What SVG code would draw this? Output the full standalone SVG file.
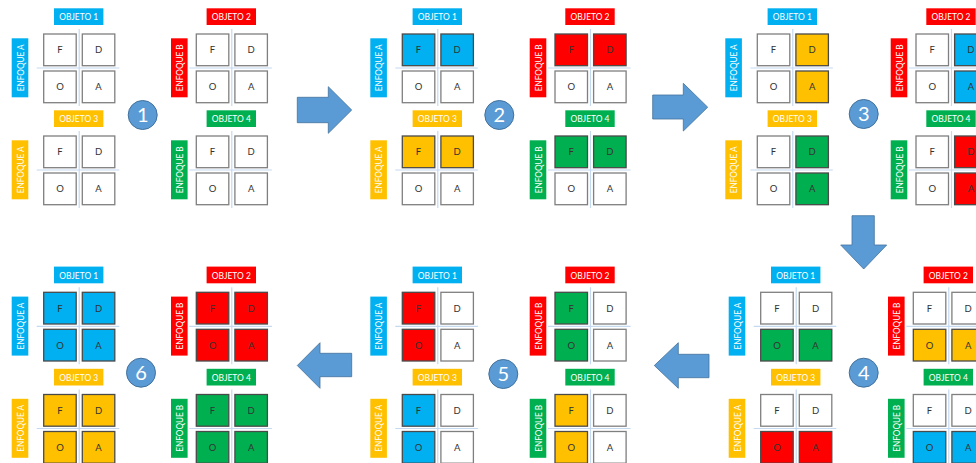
<svg xmlns="http://www.w3.org/2000/svg" width="976" height="463" viewBox="0 0 976 463">
<style>
  text{font-family:"Lato","Liberation Sans",sans-serif}
  .cross{fill:none;stroke:#c5d9f1;stroke-width:1.2}
  .box{fill:#fff;stroke:#7f7f7f;stroke-width:1.3}
  .box.blue{fill:#00b0f0;stroke:#4a4a4a}
  .box.red{fill:#ff0000;stroke:#4a4a4a}
  .box.yellow{fill:#ffc000;stroke:#4a4a4a}
  .box.green{fill:#00b050;stroke:#4a4a4a}
  .tag{stroke:none}
  .tag.blue{fill:#00b0f0}
  .tag.red{fill:#ff0000}
  .tag.yellow{fill:#ffc000}
  .tag.green{fill:#00b050}
  .tag-t{fill:#fff;font-size:9.6px;text-anchor:middle}
  .ltr{fill:#333;font-size:9.5px;text-anchor:middle}
  .step{fill:#5b9bd5;stroke:#41719c;stroke-width:1}
  .step-t{fill:#fff;font-size:20px;text-anchor:middle}
  .arrow{fill:#5b9bd5;stroke:#41719c;stroke-width:0.8}
</style>

<!-- connectors: block arrows between stages -->
<g id="connectors">
  <path class="arrow" d="M297.3,97.3H328.3V86.7L351.7,110L328.3,133.3V122.7H297.3Z"/>
  <path class="arrow" d="M652.7,95H683.3V83.3L707.7,107.2L683.3,131V119H652.7Z"/>
  <path class="arrow" d="M852,215.7H874.3V245H886.7L863.7,269L840.7,245H852Z"/>
  <path class="arrow" d="M709,354.3H678.3V342.7L654.3,365.5L678.3,388.3V377.7H709Z"/>
  <path class="arrow" d="M351.7,353.3H320V342.7L297.3,365.5L320,388.3V376.7H351.7Z"/>
</g>

<!-- stage 1 -->
<g id="stage1">
  <g id="s1-obj1" transform="translate(43.7,34)">
    <path class="cross" d="M35.5,-5V72M-7,34H75.6"/>
    <rect class="tag blue" x="10.3" y="-25.7" width="49.4" height="16.7"/>
    <text class="tag-t" x="35" y="-13.8" textLength="39" lengthAdjust="spacingAndGlyphs">OBJETO 1</text>
    <rect class="tag blue" x="-32" y="4.3" width="16.6" height="59"/>
    <text class="tag-t" transform="translate(-23.7,33.8) rotate(-90)" y="3.5" textLength="47" lengthAdjust="spacingAndGlyphs">ENFOQUE A</text>
    <rect class="box" x="0" y="0" width="32.5" height="31.7"/><text class="ltr" x="16.25" y="19.3">F</text>
    <rect class="box" x="38.6" y="0" width="32.5" height="31.7"/><text class="ltr" x="54.85" y="19.3">D</text>
    <rect class="box" x="0" y="37" width="32.5" height="31.7"/><text class="ltr" x="16.25" y="56.3">O</text>
    <rect class="box" x="38.6" y="37" width="32.5" height="31.7"/><text class="ltr" x="54.85" y="56.3">A</text>
  </g>
  <g id="s1-obj2" transform="translate(196.3,34)">
    <path class="cross" d="M35.5,-5V72M-7,34H75.6"/>
    <rect class="tag red" x="10.3" y="-25.7" width="49.4" height="16.7"/>
    <text class="tag-t" x="35" y="-13.8" textLength="39" lengthAdjust="spacingAndGlyphs">OBJETO 2</text>
    <rect class="tag red" x="-25.3" y="4.3" width="16.6" height="59"/>
    <text class="tag-t" transform="translate(-17,33.8) rotate(-90)" y="3.5" textLength="47" lengthAdjust="spacingAndGlyphs">ENFOQUE B</text>
    <rect class="box" x="0" y="0" width="32.5" height="31.7"/><text class="ltr" x="16.25" y="19.3">F</text>
    <rect class="box" x="38.6" y="0" width="32.5" height="31.7"/><text class="ltr" x="54.85" y="19.3">D</text>
    <rect class="box" x="0" y="37" width="32.5" height="31.7"/><text class="ltr" x="16.25" y="56.3">O</text>
    <rect class="box" x="38.6" y="37" width="32.5" height="31.7"/><text class="ltr" x="54.85" y="56.3">A</text>
  </g>
  <g id="s1-obj3" transform="translate(43.7,136)">
    <path class="cross" d="M35.5,-5V72M-7,34H75.6"/>
    <rect class="tag yellow" x="10.3" y="-25.7" width="49.4" height="16.7"/>
    <text class="tag-t" x="35" y="-13.8" textLength="39" lengthAdjust="spacingAndGlyphs">OBJETO 3</text>
    <rect class="tag yellow" x="-32" y="4.3" width="16.6" height="59"/>
    <text class="tag-t" transform="translate(-23.7,33.8) rotate(-90)" y="3.5" textLength="47" lengthAdjust="spacingAndGlyphs">ENFOQUE A</text>
    <rect class="box" x="0" y="0" width="32.5" height="31.7"/><text class="ltr" x="16.25" y="19.3">F</text>
    <rect class="box" x="38.6" y="0" width="32.5" height="31.7"/><text class="ltr" x="54.85" y="19.3">D</text>
    <rect class="box" x="0" y="37" width="32.5" height="31.7"/><text class="ltr" x="16.25" y="56.3">O</text>
    <rect class="box" x="38.6" y="37" width="32.5" height="31.7"/><text class="ltr" x="54.85" y="56.3">A</text>
  </g>
  <g id="s1-obj4" transform="translate(196.3,136)">
    <path class="cross" d="M35.5,-5V72M-7,34H75.6"/>
    <rect class="tag green" x="10.3" y="-25.7" width="49.4" height="16.7"/>
    <text class="tag-t" x="35" y="-13.8" textLength="39" lengthAdjust="spacingAndGlyphs">OBJETO 4</text>
    <rect class="tag green" x="-25.3" y="4.3" width="16.6" height="59"/>
    <text class="tag-t" transform="translate(-17,33.8) rotate(-90)" y="3.5" textLength="47" lengthAdjust="spacingAndGlyphs">ENFOQUE B</text>
    <rect class="box" x="0" y="0" width="32.5" height="31.7"/><text class="ltr" x="16.25" y="19.3">F</text>
    <rect class="box" x="38.6" y="0" width="32.5" height="31.7"/><text class="ltr" x="54.85" y="19.3">D</text>
    <rect class="box" x="0" y="37" width="32.5" height="31.7"/><text class="ltr" x="16.25" y="56.3">O</text>
    <rect class="box" x="38.6" y="37" width="32.5" height="31.7"/><text class="ltr" x="54.85" y="56.3">A</text>
  </g>
  <g id="s1-num"><circle class="step" cx="142.7" cy="115" r="14.5"/><text class="step-t" x="142.7" y="122">1</text></g>
</g>

<!-- stage 2 -->
<g id="stage2">
  <g id="s2-obj1" transform="translate(402.3,34)">
    <path class="cross" d="M35.5,-5V72M-7,34H75.6"/>
    <rect class="tag blue" x="10.3" y="-25.7" width="49.4" height="16.7"/>
    <text class="tag-t" x="35" y="-13.8" textLength="39" lengthAdjust="spacingAndGlyphs">OBJETO 1</text>
    <rect class="tag blue" x="-32" y="4.3" width="16.6" height="59"/>
    <text class="tag-t" transform="translate(-23.7,33.8) rotate(-90)" y="3.5" textLength="47" lengthAdjust="spacingAndGlyphs">ENFOQUE A</text>
    <rect class="box blue" x="0" y="0" width="32.5" height="31.7"/><text class="ltr" x="16.25" y="19.3">F</text>
    <rect class="box blue" x="38.6" y="0" width="32.5" height="31.7"/><text class="ltr" x="54.85" y="19.3">D</text>
    <rect class="box" x="0" y="37" width="32.5" height="31.7"/><text class="ltr" x="16.25" y="56.3">O</text>
    <rect class="box" x="38.6" y="37" width="32.5" height="31.7"/><text class="ltr" x="54.85" y="56.3">A</text>
  </g>
  <g id="s2-obj2" transform="translate(555,34)">
    <path class="cross" d="M35.5,-5V72M-7,34H75.6"/>
    <rect class="tag red" x="10.3" y="-25.7" width="49.4" height="16.7"/>
    <text class="tag-t" x="35" y="-13.8" textLength="39" lengthAdjust="spacingAndGlyphs">OBJETO 2</text>
    <rect class="tag red" x="-25.3" y="4.3" width="16.6" height="59"/>
    <text class="tag-t" transform="translate(-17,33.8) rotate(-90)" y="3.5" textLength="47" lengthAdjust="spacingAndGlyphs">ENFOQUE B</text>
    <rect class="box red" x="0" y="0" width="32.5" height="31.7"/><text class="ltr" x="16.25" y="19.3">F</text>
    <rect class="box red" x="38.6" y="0" width="32.5" height="31.7"/><text class="ltr" x="54.85" y="19.3">D</text>
    <rect class="box" x="0" y="37" width="32.5" height="31.7"/><text class="ltr" x="16.25" y="56.3">O</text>
    <rect class="box" x="38.6" y="37" width="32.5" height="31.7"/><text class="ltr" x="54.85" y="56.3">A</text>
  </g>
  <g id="s2-obj3" transform="translate(402.3,136)">
    <path class="cross" d="M35.5,-5V72M-7,34H75.6"/>
    <rect class="tag yellow" x="10.3" y="-25.7" width="49.4" height="16.7"/>
    <text class="tag-t" x="35" y="-13.8" textLength="39" lengthAdjust="spacingAndGlyphs">OBJETO 3</text>
    <rect class="tag yellow" x="-32" y="4.3" width="16.6" height="59"/>
    <text class="tag-t" transform="translate(-23.7,33.8) rotate(-90)" y="3.5" textLength="47" lengthAdjust="spacingAndGlyphs">ENFOQUE A</text>
    <rect class="box yellow" x="0" y="0" width="32.5" height="31.7"/><text class="ltr" x="16.25" y="19.3">F</text>
    <rect class="box yellow" x="38.6" y="0" width="32.5" height="31.7"/><text class="ltr" x="54.85" y="19.3">D</text>
    <rect class="box" x="0" y="37" width="32.5" height="31.7"/><text class="ltr" x="16.25" y="56.3">O</text>
    <rect class="box" x="38.6" y="37" width="32.5" height="31.7"/><text class="ltr" x="54.85" y="56.3">A</text>
  </g>
  <g id="s2-obj4" transform="translate(555,136)">
    <path class="cross" d="M35.5,-5V72M-7,34H75.6"/>
    <rect class="tag green" x="10.3" y="-25.7" width="49.4" height="16.7"/>
    <text class="tag-t" x="35" y="-13.8" textLength="39" lengthAdjust="spacingAndGlyphs">OBJETO 4</text>
    <rect class="tag green" x="-25.3" y="4.3" width="16.6" height="59"/>
    <text class="tag-t" transform="translate(-17,33.8) rotate(-90)" y="3.5" textLength="47" lengthAdjust="spacingAndGlyphs">ENFOQUE B</text>
    <rect class="box green" x="0" y="0" width="32.5" height="31.7"/><text class="ltr" x="16.25" y="19.3">F</text>
    <rect class="box green" x="38.6" y="0" width="32.5" height="31.7"/><text class="ltr" x="54.85" y="19.3">D</text>
    <rect class="box" x="0" y="37" width="32.5" height="31.7"/><text class="ltr" x="16.25" y="56.3">O</text>
    <rect class="box" x="38.6" y="37" width="32.5" height="31.7"/><text class="ltr" x="54.85" y="56.3">A</text>
  </g>
  <g id="s2-num"><circle class="step" cx="499.3" cy="115" r="14.5"/><text class="step-t" x="499.3" y="122">2</text></g>
</g>

<!-- stage 3 -->
<g id="stage3">
  <g id="s3-obj1" transform="translate(757.3,34)">
    <path class="cross" d="M35.5,-5V72M-7,34H75.6"/>
    <rect class="tag blue" x="10.3" y="-25.7" width="49.4" height="16.7"/>
    <text class="tag-t" x="35" y="-13.8" textLength="39" lengthAdjust="spacingAndGlyphs">OBJETO 1</text>
    <rect class="tag blue" x="-32" y="4.3" width="16.6" height="59"/>
    <text class="tag-t" transform="translate(-23.7,33.8) rotate(-90)" y="3.5" textLength="47" lengthAdjust="spacingAndGlyphs">ENFOQUE A</text>
    <rect class="box" x="0" y="0" width="32.5" height="31.7"/><text class="ltr" x="16.25" y="19.3">F</text>
    <rect class="box yellow" x="38.6" y="0" width="32.5" height="31.7"/><text class="ltr" x="54.85" y="19.3">D</text>
    <rect class="box" x="0" y="37" width="32.5" height="31.7"/><text class="ltr" x="16.25" y="56.3">O</text>
    <rect class="box yellow" x="38.6" y="37" width="32.5" height="31.7"/><text class="ltr" x="54.85" y="56.3">A</text>
  </g>
  <g id="s3-obj2" transform="translate(916,34)">
    <path class="cross" d="M35.5,-5V72M-7,34H75.6"/>
    <rect class="tag red" x="10.3" y="-25.7" width="49.4" height="16.7"/>
    <text class="tag-t" x="35" y="-13.8" textLength="39" lengthAdjust="spacingAndGlyphs">OBJETO 2</text>
    <rect class="tag red" x="-25.3" y="4.3" width="16.6" height="59"/>
    <text class="tag-t" transform="translate(-17,33.8) rotate(-90)" y="3.5" textLength="47" lengthAdjust="spacingAndGlyphs">ENFOQUE B</text>
    <rect class="box" x="0" y="0" width="32.5" height="31.7"/><text class="ltr" x="16.25" y="19.3">F</text>
    <rect class="box blue" x="38.6" y="0" width="32.5" height="31.7"/><text class="ltr" x="54.85" y="19.3">D</text>
    <rect class="box" x="0" y="37" width="32.5" height="31.7"/><text class="ltr" x="16.25" y="56.3">O</text>
    <rect class="box blue" x="38.6" y="37" width="32.5" height="31.7"/><text class="ltr" x="54.85" y="56.3">A</text>
  </g>
  <g id="s3-obj3" transform="translate(757.3,136)">
    <path class="cross" d="M35.5,-5V72M-7,34H75.6"/>
    <rect class="tag yellow" x="10.3" y="-25.7" width="49.4" height="16.7"/>
    <text class="tag-t" x="35" y="-13.8" textLength="39" lengthAdjust="spacingAndGlyphs">OBJETO 3</text>
    <rect class="tag yellow" x="-32" y="4.3" width="16.6" height="59"/>
    <text class="tag-t" transform="translate(-23.7,33.8) rotate(-90)" y="3.5" textLength="47" lengthAdjust="spacingAndGlyphs">ENFOQUE A</text>
    <rect class="box" x="0" y="0" width="32.5" height="31.7"/><text class="ltr" x="16.25" y="19.3">F</text>
    <rect class="box green" x="38.6" y="0" width="32.5" height="31.7"/><text class="ltr" x="54.85" y="19.3">D</text>
    <rect class="box" x="0" y="37" width="32.5" height="31.7"/><text class="ltr" x="16.25" y="56.3">O</text>
    <rect class="box green" x="38.6" y="37" width="32.5" height="31.7"/><text class="ltr" x="54.85" y="56.3">A</text>
  </g>
  <g id="s3-obj4" transform="translate(916,136)">
    <path class="cross" d="M35.5,-5V72M-7,34H75.6"/>
    <rect class="tag green" x="10.3" y="-25.7" width="49.4" height="16.7"/>
    <text class="tag-t" x="35" y="-13.8" textLength="39" lengthAdjust="spacingAndGlyphs">OBJETO 4</text>
    <rect class="tag green" x="-25.3" y="4.3" width="16.6" height="59"/>
    <text class="tag-t" transform="translate(-17,33.8) rotate(-90)" y="3.5" textLength="47" lengthAdjust="spacingAndGlyphs">ENFOQUE B</text>
    <rect class="box" x="0" y="0" width="32.5" height="31.7"/><text class="ltr" x="16.25" y="19.3">F</text>
    <rect class="box red" x="38.6" y="0" width="32.5" height="31.7"/><text class="ltr" x="54.85" y="19.3">D</text>
    <rect class="box" x="0" y="37" width="32.5" height="31.7"/><text class="ltr" x="16.25" y="56.3">O</text>
    <rect class="box red" x="38.6" y="37" width="32.5" height="31.7"/><text class="ltr" x="54.85" y="56.3">A</text>
  </g>
  <g id="s3-num"><circle class="step" cx="863.7" cy="114" r="14.5"/><text class="step-t" x="863.7" y="121">3</text></g>
</g>

<!-- stage 4 -->
<g id="stage4">
  <g id="s4-obj1" transform="translate(760.7,292.3)">
    <path class="cross" d="M35.5,-5V72M-7,34H75.6"/>
    <rect class="tag blue" x="10.3" y="-25.7" width="49.4" height="16.7"/>
    <text class="tag-t" x="35" y="-13.8" textLength="39" lengthAdjust="spacingAndGlyphs">OBJETO 1</text>
    <rect class="tag blue" x="-32" y="4.3" width="16.6" height="59"/>
    <text class="tag-t" transform="translate(-23.7,33.8) rotate(-90)" y="3.5" textLength="47" lengthAdjust="spacingAndGlyphs">ENFOQUE A</text>
    <rect class="box" x="0" y="0" width="32.5" height="31.7"/><text class="ltr" x="16.25" y="19.3">F</text>
    <rect class="box" x="38.6" y="0" width="32.5" height="31.7"/><text class="ltr" x="54.85" y="19.3">D</text>
    <rect class="box green" x="0" y="37" width="32.5" height="31.7"/><text class="ltr" x="16.25" y="56.3">O</text>
    <rect class="box green" x="38.6" y="37" width="32.5" height="31.7"/><text class="ltr" x="54.85" y="56.3">A</text>
  </g>
  <g id="s4-obj2" transform="translate(913.3,292.3)">
    <path class="cross" d="M35.5,-5V72M-7,34H75.6"/>
    <rect class="tag red" x="10.3" y="-25.7" width="49.4" height="16.7"/>
    <text class="tag-t" x="35" y="-13.8" textLength="39" lengthAdjust="spacingAndGlyphs">OBJETO 2</text>
    <rect class="tag red" x="-25.3" y="4.3" width="16.6" height="59"/>
    <text class="tag-t" transform="translate(-17,33.8) rotate(-90)" y="3.5" textLength="47" lengthAdjust="spacingAndGlyphs">ENFOQUE B</text>
    <rect class="box" x="0" y="0" width="32.5" height="31.7"/><text class="ltr" x="16.25" y="19.3">F</text>
    <rect class="box" x="38.6" y="0" width="32.5" height="31.7"/><text class="ltr" x="54.85" y="19.3">D</text>
    <rect class="box yellow" x="0" y="37" width="32.5" height="31.7"/><text class="ltr" x="16.25" y="56.3">O</text>
    <rect class="box yellow" x="38.6" y="37" width="32.5" height="31.7"/><text class="ltr" x="54.85" y="56.3">A</text>
  </g>
  <g id="s4-obj3" transform="translate(760.7,394.5)">
    <path class="cross" d="M35.5,-5V72M-7,34H75.6"/>
    <rect class="tag yellow" x="10.3" y="-25.7" width="49.4" height="16.7"/>
    <text class="tag-t" x="35" y="-13.8" textLength="39" lengthAdjust="spacingAndGlyphs">OBJETO 3</text>
    <rect class="tag yellow" x="-32" y="4.3" width="16.6" height="59"/>
    <text class="tag-t" transform="translate(-23.7,33.8) rotate(-90)" y="3.5" textLength="47" lengthAdjust="spacingAndGlyphs">ENFOQUE A</text>
    <rect class="box" x="0" y="0" width="32.5" height="31.7"/><text class="ltr" x="16.25" y="19.3">F</text>
    <rect class="box" x="38.6" y="0" width="32.5" height="31.7"/><text class="ltr" x="54.85" y="19.3">D</text>
    <rect class="box red" x="0" y="37" width="32.5" height="31.7"/><text class="ltr" x="16.25" y="56.3">O</text>
    <rect class="box red" x="38.6" y="37" width="32.5" height="31.7"/><text class="ltr" x="54.85" y="56.3">A</text>
  </g>
  <g id="s4-obj4" transform="translate(913.3,394.5)">
    <path class="cross" d="M35.5,-5V72M-7,34H75.6"/>
    <rect class="tag green" x="10.3" y="-25.7" width="49.4" height="16.7"/>
    <text class="tag-t" x="35" y="-13.8" textLength="39" lengthAdjust="spacingAndGlyphs">OBJETO 4</text>
    <rect class="tag green" x="-25.3" y="4.3" width="16.6" height="59"/>
    <text class="tag-t" transform="translate(-17,33.8) rotate(-90)" y="3.5" textLength="47" lengthAdjust="spacingAndGlyphs">ENFOQUE B</text>
    <rect class="box" x="0" y="0" width="32.5" height="31.7"/><text class="ltr" x="16.25" y="19.3">F</text>
    <rect class="box" x="38.6" y="0" width="32.5" height="31.7"/><text class="ltr" x="54.85" y="19.3">D</text>
    <rect class="box blue" x="0" y="37" width="32.5" height="31.7"/><text class="ltr" x="16.25" y="56.3">O</text>
    <rect class="box blue" x="38.6" y="37" width="32.5" height="31.7"/><text class="ltr" x="54.85" y="56.3">A</text>
  </g>
  <g id="s4-num"><circle class="step" cx="863.7" cy="372.7" r="14.5"/><text class="step-t" x="863.7" y="379.7">4</text></g>
</g>

<!-- stage 5 -->
<g id="stage5">
  <g id="s5-obj1" transform="translate(402.3,292.3)">
    <path class="cross" d="M35.5,-5V72M-7,34H75.6"/>
    <rect class="tag blue" x="10.3" y="-25.7" width="49.4" height="16.7"/>
    <text class="tag-t" x="35" y="-13.8" textLength="39" lengthAdjust="spacingAndGlyphs">OBJETO 1</text>
    <rect class="tag blue" x="-32" y="4.3" width="16.6" height="59"/>
    <text class="tag-t" transform="translate(-23.7,33.8) rotate(-90)" y="3.5" textLength="47" lengthAdjust="spacingAndGlyphs">ENFOQUE A</text>
    <rect class="box red" x="0" y="0" width="32.5" height="31.7"/><text class="ltr" x="16.25" y="19.3">F</text>
    <rect class="box" x="38.6" y="0" width="32.5" height="31.7"/><text class="ltr" x="54.85" y="19.3">D</text>
    <rect class="box red" x="0" y="37" width="32.5" height="31.7"/><text class="ltr" x="16.25" y="56.3">O</text>
    <rect class="box" x="38.6" y="37" width="32.5" height="31.7"/><text class="ltr" x="54.85" y="56.3">A</text>
  </g>
  <g id="s5-obj2" transform="translate(555,292.3)">
    <path class="cross" d="M35.5,-5V72M-7,34H75.6"/>
    <rect class="tag red" x="10.3" y="-25.7" width="49.4" height="16.7"/>
    <text class="tag-t" x="35" y="-13.8" textLength="39" lengthAdjust="spacingAndGlyphs">OBJETO 2</text>
    <rect class="tag red" x="-25.3" y="4.3" width="16.6" height="59"/>
    <text class="tag-t" transform="translate(-17,33.8) rotate(-90)" y="3.5" textLength="47" lengthAdjust="spacingAndGlyphs">ENFOQUE B</text>
    <rect class="box green" x="0" y="0" width="32.5" height="31.7"/><text class="ltr" x="16.25" y="19.3">F</text>
    <rect class="box" x="38.6" y="0" width="32.5" height="31.7"/><text class="ltr" x="54.85" y="19.3">D</text>
    <rect class="box green" x="0" y="37" width="32.5" height="31.7"/><text class="ltr" x="16.25" y="56.3">O</text>
    <rect class="box" x="38.6" y="37" width="32.5" height="31.7"/><text class="ltr" x="54.85" y="56.3">A</text>
  </g>
  <g id="s5-obj3" transform="translate(402.3,394.5)">
    <path class="cross" d="M35.5,-5V72M-7,34H75.6"/>
    <rect class="tag yellow" x="10.3" y="-25.7" width="49.4" height="16.7"/>
    <text class="tag-t" x="35" y="-13.8" textLength="39" lengthAdjust="spacingAndGlyphs">OBJETO 3</text>
    <rect class="tag yellow" x="-32" y="4.3" width="16.6" height="59"/>
    <text class="tag-t" transform="translate(-23.7,33.8) rotate(-90)" y="3.5" textLength="47" lengthAdjust="spacingAndGlyphs">ENFOQUE A</text>
    <rect class="box blue" x="0" y="0" width="32.5" height="31.7"/><text class="ltr" x="16.25" y="19.3">F</text>
    <rect class="box" x="38.6" y="0" width="32.5" height="31.7"/><text class="ltr" x="54.85" y="19.3">D</text>
    <rect class="box blue" x="0" y="37" width="32.5" height="31.7"/><text class="ltr" x="16.25" y="56.3">O</text>
    <rect class="box" x="38.6" y="37" width="32.5" height="31.7"/><text class="ltr" x="54.85" y="56.3">A</text>
  </g>
  <g id="s5-obj4" transform="translate(555,394.5)">
    <path class="cross" d="M35.5,-5V72M-7,34H75.6"/>
    <rect class="tag green" x="10.3" y="-25.7" width="49.4" height="16.7"/>
    <text class="tag-t" x="35" y="-13.8" textLength="39" lengthAdjust="spacingAndGlyphs">OBJETO 4</text>
    <rect class="tag green" x="-25.3" y="4.3" width="16.6" height="59"/>
    <text class="tag-t" transform="translate(-17,33.8) rotate(-90)" y="3.5" textLength="47" lengthAdjust="spacingAndGlyphs">ENFOQUE B</text>
    <rect class="box yellow" x="0" y="0" width="32.5" height="31.7"/><text class="ltr" x="16.25" y="19.3">F</text>
    <rect class="box" x="38.6" y="0" width="32.5" height="31.7"/><text class="ltr" x="54.85" y="19.3">D</text>
    <rect class="box yellow" x="0" y="37" width="32.5" height="31.7"/><text class="ltr" x="16.25" y="56.3">O</text>
    <rect class="box" x="38.6" y="37" width="32.5" height="31.7"/><text class="ltr" x="54.85" y="56.3">A</text>
  </g>
  <g id="s5-num"><circle class="step" cx="503.3" cy="374" r="14.5"/><text class="step-t" x="503.3" y="381">5</text></g>
</g>

<!-- stage 6 -->
<g id="stage6">
  <g id="s6-obj1" transform="translate(43.7,292.3)">
    <path class="cross" d="M35.5,-5V72M-7,34H75.6"/>
    <rect class="tag blue" x="10.3" y="-25.7" width="49.4" height="16.7"/>
    <text class="tag-t" x="35" y="-13.8" textLength="39" lengthAdjust="spacingAndGlyphs">OBJETO 1</text>
    <rect class="tag blue" x="-32" y="4.3" width="16.6" height="59"/>
    <text class="tag-t" transform="translate(-23.7,33.8) rotate(-90)" y="3.5" textLength="47" lengthAdjust="spacingAndGlyphs">ENFOQUE A</text>
    <rect class="box blue" x="0" y="0" width="32.5" height="31.7"/><text class="ltr" x="16.25" y="19.3">F</text>
    <rect class="box blue" x="38.6" y="0" width="32.5" height="31.7"/><text class="ltr" x="54.85" y="19.3">D</text>
    <rect class="box blue" x="0" y="37" width="32.5" height="31.7"/><text class="ltr" x="16.25" y="56.3">O</text>
    <rect class="box blue" x="38.6" y="37" width="32.5" height="31.7"/><text class="ltr" x="54.85" y="56.3">A</text>
  </g>
  <g id="s6-obj2" transform="translate(196.3,292.3)">
    <path class="cross" d="M35.5,-5V72M-7,34H75.6"/>
    <rect class="tag red" x="10.3" y="-25.7" width="49.4" height="16.7"/>
    <text class="tag-t" x="35" y="-13.8" textLength="39" lengthAdjust="spacingAndGlyphs">OBJETO 2</text>
    <rect class="tag red" x="-25.3" y="4.3" width="16.6" height="59"/>
    <text class="tag-t" transform="translate(-17,33.8) rotate(-90)" y="3.5" textLength="47" lengthAdjust="spacingAndGlyphs">ENFOQUE B</text>
    <rect class="box red" x="0" y="0" width="32.5" height="31.7"/><text class="ltr" x="16.25" y="19.3">F</text>
    <rect class="box red" x="38.6" y="0" width="32.5" height="31.7"/><text class="ltr" x="54.85" y="19.3">D</text>
    <rect class="box red" x="0" y="37" width="32.5" height="31.7"/><text class="ltr" x="16.25" y="56.3">O</text>
    <rect class="box red" x="38.6" y="37" width="32.5" height="31.7"/><text class="ltr" x="54.85" y="56.3">A</text>
  </g>
  <g id="s6-obj3" transform="translate(43.7,394.5)">
    <path class="cross" d="M35.5,-5V72M-7,34H75.6"/>
    <rect class="tag yellow" x="10.3" y="-25.7" width="49.4" height="16.7"/>
    <text class="tag-t" x="35" y="-13.8" textLength="39" lengthAdjust="spacingAndGlyphs">OBJETO 3</text>
    <rect class="tag yellow" x="-32" y="4.3" width="16.6" height="59"/>
    <text class="tag-t" transform="translate(-23.7,33.8) rotate(-90)" y="3.5" textLength="47" lengthAdjust="spacingAndGlyphs">ENFOQUE A</text>
    <rect class="box yellow" x="0" y="0" width="32.5" height="31.7"/><text class="ltr" x="16.25" y="19.3">F</text>
    <rect class="box yellow" x="38.6" y="0" width="32.5" height="31.7"/><text class="ltr" x="54.85" y="19.3">D</text>
    <rect class="box yellow" x="0" y="37" width="32.5" height="31.7"/><text class="ltr" x="16.25" y="56.3">O</text>
    <rect class="box yellow" x="38.6" y="37" width="32.5" height="31.7"/><text class="ltr" x="54.85" y="56.3">A</text>
  </g>
  <g id="s6-obj4" transform="translate(196.3,394.5)">
    <path class="cross" d="M35.5,-5V72M-7,34H75.6"/>
    <rect class="tag green" x="10.3" y="-25.7" width="49.4" height="16.7"/>
    <text class="tag-t" x="35" y="-13.8" textLength="39" lengthAdjust="spacingAndGlyphs">OBJETO 4</text>
    <rect class="tag green" x="-25.3" y="4.3" width="16.6" height="59"/>
    <text class="tag-t" transform="translate(-17,33.8) rotate(-90)" y="3.5" textLength="47" lengthAdjust="spacingAndGlyphs">ENFOQUE B</text>
    <rect class="box green" x="0" y="0" width="32.5" height="31.7"/><text class="ltr" x="16.25" y="19.3">F</text>
    <rect class="box green" x="38.6" y="0" width="32.5" height="31.7"/><text class="ltr" x="54.85" y="19.3">D</text>
    <rect class="box green" x="0" y="37" width="32.5" height="31.7"/><text class="ltr" x="16.25" y="56.3">O</text>
    <rect class="box green" x="38.6" y="37" width="32.5" height="31.7"/><text class="ltr" x="54.85" y="56.3">A</text>
  </g>
  <g id="s6-num"><circle class="step" cx="141" cy="372.7" r="14.5"/><text class="step-t" x="141" y="379.7">6</text></g>
</g>
</svg>
